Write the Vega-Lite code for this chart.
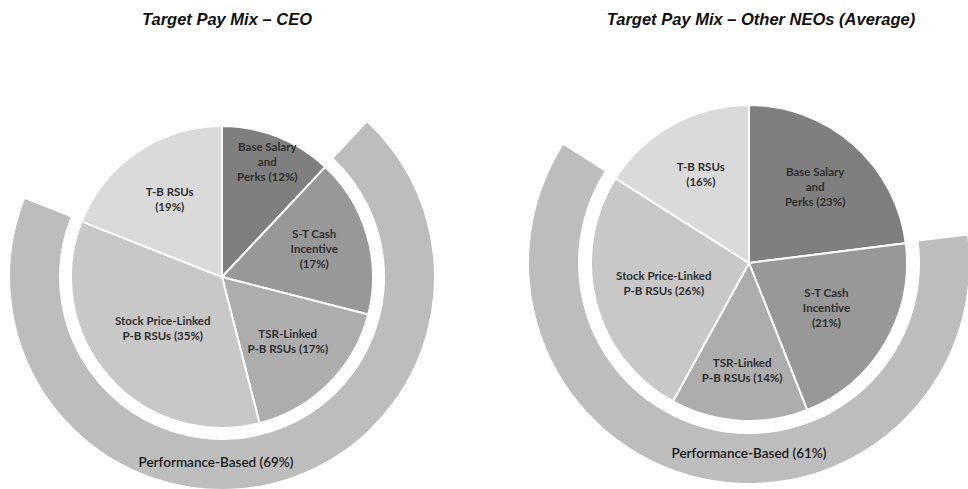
{
  "$schema": "https://vega.github.io/schema/vega-lite/v6.json",
  "background": "white",
  "padding": {"left": 0, "top": 11, "right": 0, "bottom": 0},
  "bounds": "flush",
  "spacing": 86,
  "config": {"view": {"stroke": null}},
  "datasets": {
    "ceo": [
      {"component": "Base Salary and Perks", "label": "Base Salary\nand\nPerks (12%)", "value": 12, "order": 1},
      {"component": "S-T Cash Incentive", "label": "S-T Cash\nIncentive\n(17%)", "value": 17, "order": 2},
      {"component": "TSR-Linked P-B RSUs", "label": "TSR-Linked\nP-B RSUs (17%)", "value": 17, "order": 3},
      {"component": "Stock Price-Linked P-B RSUs", "label": "Stock Price-Linked\nP-B RSUs (35%)", "value": 35, "order": 4},
      {"component": "T-B RSUs", "label": "T-B RSUs\n(19%)", "value": 19, "order": 5}
    ],
    "ceoRing": [
      {"part": "before", "label": "", "value": 12, "order": 1},
      {"part": "Performance-Based", "label": "Performance-Based (69%)", "value": 69, "order": 2},
      {"part": "after", "label": "", "value": 19, "order": 3}
    ],
    "neo": [
      {"component": "Base Salary and Perks", "label": "Base Salary\nand\nPerks (23%)", "value": 23, "order": 1},
      {"component": "S-T Cash Incentive", "label": "S-T Cash\nIncentive\n(21%)", "value": 21, "order": 2},
      {"component": "TSR-Linked P-B RSUs", "label": "TSR-Linked\nP-B RSUs (14%)", "value": 14, "order": 3},
      {"component": "Stock Price-Linked P-B RSUs", "label": "Stock Price-Linked\nP-B RSUs (26%)", "value": 26, "order": 4},
      {"component": "T-B RSUs", "label": "T-B RSUs\n(16%)", "value": 16, "order": 5}
    ],
    "neoRing": [
      {"part": "before", "label": "", "value": 23, "order": 1},
      {"part": "Performance-Based", "label": "Performance-Based (61%)", "value": 61, "order": 2},
      {"part": "after", "label": "", "value": 16, "order": 3}
    ]
  },
  "hconcat": [
    {
      "width": 444,
      "height": 426,
      "title": {"text": "Target Pay Mix – CEO", "frame": "group", "font": "Liberation Sans", "fontSize": 16.5, "fontStyle": "italic", "fontWeight": "bold", "color": "#111111", "baseline": "alphabetic", "offset": 23, "dx": 5},
      "layer": [
        {
          "data": {"name": "ceoRing"},
          "mark": {"type": "arc", "outerRadius": 212, "innerRadius": 163},
          "encoding": {
            "theta": {"field": "value", "type": "quantitative", "stack": true},
            "order": {"field": "order", "type": "quantitative"},
            "fill": {"field": "part", "type": "nominal", "legend": null,
              "scale": {"domain": ["before", "Performance-Based", "after"], "range": ["transparent", "#bdbdbd", "transparent"]}}
          }
        },
        {
          "data": {"name": "ceoRing"},
          "transform": [{"filter": "datum.part === 'Performance-Based'"}],
          "mark": {"type": "text", "radius": 186, "theta": 3.1416, "font": "Lato", "fontSize": 13.5, "fontWeight": 600, "color": "#1a1a1a", "baseline": "middle", "align": "center", "dx": -6},
          "encoding": {"text": {"field": "label", "type": "nominal"}}
        },
        {
          "data": {"name": "ceo"},
          "mark": {"type": "arc", "outerRadius": 151, "stroke": "white", "strokeWidth": 2},
          "encoding": {
            "theta": {"field": "value", "type": "quantitative", "stack": true},
            "order": {"field": "order", "type": "quantitative"},
            "fill": {"field": "component", "type": "nominal", "legend": null,
              "scale": {"domain": ["Base Salary and Perks", "S-T Cash Incentive", "TSR-Linked P-B RSUs", "Stock Price-Linked P-B RSUs", "T-B RSUs"],
                        "range": ["#7f7f7f", "#989898", "#adadad", "#c8c8c8", "#dadada"]}}
          }
        },
        {
          "data": {"name": "ceo"},
          "mark": {"type": "text", "radius": 123, "dy": -15, "lineBreak": "\n", "font": "Lato", "fontSize": 11.5, "fontWeight": "bold", "color": "#2e2e2e", "lineHeight": 15, "baseline": "middle", "align": "center"},
          "encoding": {
            "theta": {"field": "value", "type": "quantitative", "stack": true},
            "order": {"field": "order", "type": "quantitative"},
            "detail": {"field": "component", "type": "nominal"},
            "text": {"condition": {"test": "datum.order === 1", "field": "label"}, "value": ""}
          }
        },
        {
          "data": {"name": "ceo"},
          "mark": {"type": "text", "radius": 96, "dy": -15, "lineBreak": "\n", "font": "Lato", "fontSize": 11.5, "fontWeight": "bold", "color": "#2e2e2e", "lineHeight": 15, "baseline": "middle", "align": "center"},
          "encoding": {
            "theta": {"field": "value", "type": "quantitative", "stack": true},
            "order": {"field": "order", "type": "quantitative"},
            "detail": {"field": "component", "type": "nominal"},
            "text": {"condition": {"test": "datum.order === 2", "field": "label"}, "value": ""}
          }
        },
        {
          "data": {"name": "ceo"},
          "mark": {"type": "text", "radius": 93, "dy": -7.5, "lineBreak": "\n", "font": "Lato", "fontSize": 11.5, "fontWeight": "bold", "color": "#2e2e2e", "lineHeight": 15, "baseline": "middle", "align": "center"},
          "encoding": {
            "theta": {"field": "value", "type": "quantitative", "stack": true},
            "order": {"field": "order", "type": "quantitative"},
            "detail": {"field": "component", "type": "nominal"},
            "text": {"condition": {"test": "datum.order === 3 || datum.order === 5", "field": "label"}, "value": ""}
          }
        },
        {
          "data": {"name": "ceo"},
          "mark": {"type": "text", "radius": 79, "dy": -7.5, "lineBreak": "\n", "font": "Lato", "fontSize": 11.5, "fontWeight": "bold", "color": "#2e2e2e", "lineHeight": 15, "baseline": "middle", "align": "center"},
          "encoding": {
            "theta": {"field": "value", "type": "quantitative", "stack": true},
            "order": {"field": "order", "type": "quantitative"},
            "detail": {"field": "component", "type": "nominal"},
            "text": {"condition": {"test": "datum.order === 4", "field": "label"}, "value": ""}
          }
        }
      ],
      "resolve": {"scale": {"fill": "independent"}}
    },
    {
      "width": 438,
      "height": 398,
      "title": {"text": "Target Pay Mix – Other NEOs (Average)", "frame": "group", "font": "Liberation Sans", "fontSize": 16.5, "fontStyle": "italic", "fontWeight": "bold", "color": "#111111", "baseline": "alphabetic", "offset": 2, "dx": 12},
      "layer": [
        {
          "data": {"name": "neoRing"},
          "mark": {"type": "arc", "outerRadius": 220, "innerRadius": 171},
          "encoding": {
            "theta": {"field": "value", "type": "quantitative", "stack": true},
            "order": {"field": "order", "type": "quantitative"},
            "fill": {"field": "part", "type": "nominal", "legend": null,
              "scale": {"domain": ["before", "Performance-Based", "after"], "range": ["transparent", "#bdbdbd", "transparent"]}}
          }
        },
        {
          "data": {"name": "neoRing"},
          "transform": [{"filter": "datum.part === 'Performance-Based'"}],
          "mark": {"type": "text", "radius": 191, "theta": 3.1416, "font": "Lato", "fontSize": 13.5, "fontWeight": 600, "color": "#1a1a1a", "baseline": "middle", "align": "center"},
          "encoding": {"text": {"field": "label", "type": "nominal"}}
        },
        {
          "data": {"name": "neo"},
          "mark": {"type": "arc", "outerRadius": 158, "stroke": "white", "strokeWidth": 2},
          "encoding": {
            "theta": {"field": "value", "type": "quantitative", "stack": true},
            "order": {"field": "order", "type": "quantitative"},
            "fill": {"field": "component", "type": "nominal", "legend": null,
              "scale": {"domain": ["Base Salary and Perks", "S-T Cash Incentive", "TSR-Linked P-B RSUs", "Stock Price-Linked P-B RSUs", "T-B RSUs"],
                        "range": ["#7f7f7f", "#989898", "#adadad", "#c8c8c8", "#dadada"]}}
          }
        },
        {
          "data": {"name": "neo"},
          "mark": {"type": "text", "radius": 100, "dy": -15, "lineBreak": "\n", "font": "Lato", "fontSize": 11.5, "fontWeight": "bold", "color": "#2e2e2e", "lineHeight": 15, "baseline": "middle", "align": "center"},
          "encoding": {
            "theta": {"field": "value", "type": "quantitative", "stack": true},
            "order": {"field": "order", "type": "quantitative"},
            "detail": {"field": "component", "type": "nominal"},
            "text": {"condition": {"test": "datum.order === 1", "field": "label"}, "value": ""}
          }
        },
        {
          "data": {"name": "neo"},
          "mark": {"type": "text", "radius": 90, "dy": -15, "lineBreak": "\n", "font": "Lato", "fontSize": 11.5, "fontWeight": "bold", "color": "#2e2e2e", "lineHeight": 15, "baseline": "middle", "align": "center"},
          "encoding": {
            "theta": {"field": "value", "type": "quantitative", "stack": true},
            "order": {"field": "order", "type": "quantitative"},
            "detail": {"field": "component", "type": "nominal"},
            "text": {"condition": {"test": "datum.order === 2", "field": "label"}, "value": ""}
          }
        },
        {
          "data": {"name": "neo"},
          "mark": {"type": "text", "radius": 109, "dy": -7.5, "lineBreak": "\n", "font": "Lato", "fontSize": 11.5, "fontWeight": "bold", "color": "#2e2e2e", "lineHeight": 15, "baseline": "middle", "align": "center"},
          "encoding": {
            "theta": {"field": "value", "type": "quantitative", "stack": true},
            "order": {"field": "order", "type": "quantitative"},
            "detail": {"field": "component", "type": "nominal"},
            "text": {"condition": {"test": "datum.order === 3", "field": "label"}, "value": ""}
          }
        },
        {
          "data": {"name": "neo"},
          "mark": {"type": "text", "radius": 88, "dy": -7.5, "lineBreak": "\n", "font": "Lato", "fontSize": 11.5, "fontWeight": "bold", "color": "#2e2e2e", "lineHeight": 15, "baseline": "middle", "align": "center"},
          "encoding": {
            "theta": {"field": "value", "type": "quantitative", "stack": true},
            "order": {"field": "order", "type": "quantitative"},
            "detail": {"field": "component", "type": "nominal"},
            "text": {"condition": {"test": "datum.order === 4", "field": "label"}, "value": ""}
          }
        },
        {
          "data": {"name": "neo"},
          "mark": {"type": "text", "radius": 100, "dy": -7.5, "lineBreak": "\n", "font": "Lato", "fontSize": 11.5, "fontWeight": "bold", "color": "#2e2e2e", "lineHeight": 15, "baseline": "middle", "align": "center"},
          "encoding": {
            "theta": {"field": "value", "type": "quantitative", "stack": true},
            "order": {"field": "order", "type": "quantitative"},
            "detail": {"field": "component", "type": "nominal"},
            "text": {"condition": {"test": "datum.order === 5", "field": "label"}, "value": ""}
          }
        }
      ],
      "resolve": {"scale": {"fill": "independent"}}
    }
  ]
}
